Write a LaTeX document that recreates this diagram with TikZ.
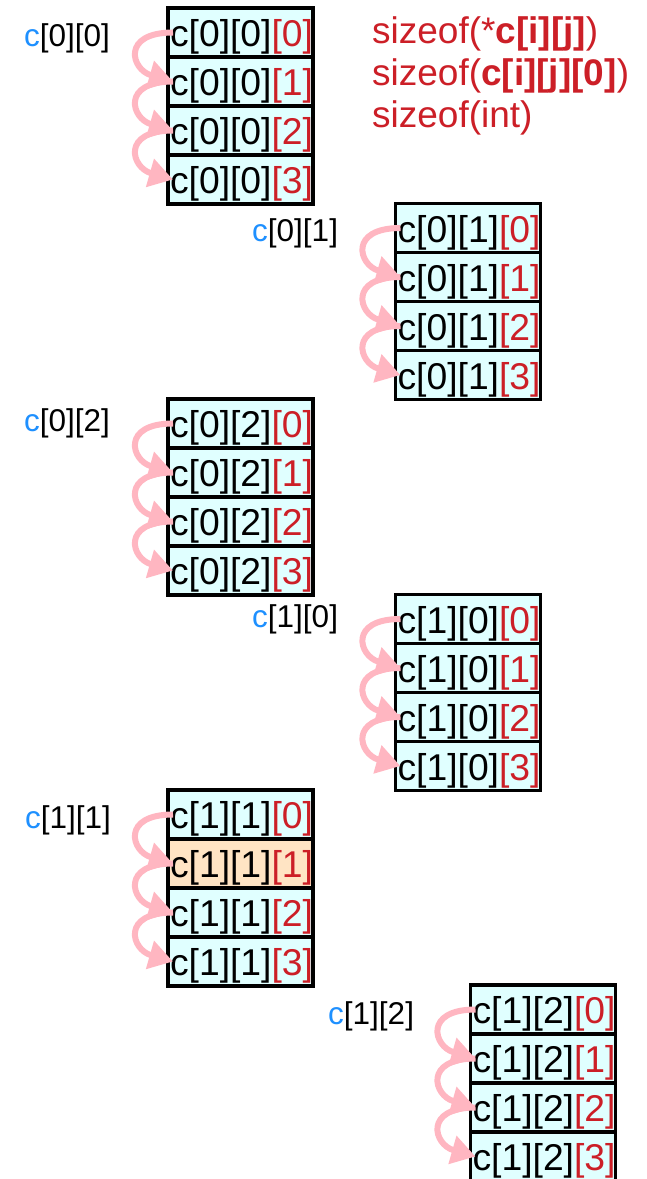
\documentclass[tikz,border=0pt]{standalone}
\usepackage{fontspec}
\setmainfont{Liberation Sans}
\usetikzlibrary{arrows.meta}
\definecolor{cred}{HTML}{CC1F27}
\definecolor{cblue}{HTML}{1E90FF}
\definecolor{cellfill}{HTML}{E0FFFF}
\definecolor{hifill}{HTML}{FFE4C4}
\definecolor{apink}{HTML}{FFB6C1}
\tikzset{
 cell/.style={draw=black, line width=3.5pt, fill=cellfill, minimum width=145pt, minimum height=49pt,
   inner xsep=2pt, inner ysep=0pt, outer sep=0pt, text width=141pt, align=left, text height=28pt, text depth=0pt,
   font=\fontsize{37.3}{44}\selectfont, anchor=north west},
 hicell/.style={fill=hifill},
 lbl/.style={anchor=base west, inner sep=0pt, font=\fontsize{31.5}{38}\selectfont},
 link/.style={apink, line width=6pt, -{Triangle[length=24pt,width=28pt]}},
 note/.style={anchor=base west, inner sep=0pt, text=cred, font=\fontsize{37}{42}\selectfont},
 b5-1/.style={hicell}
}
\newcommand\memblock[5]{%
 \foreach \k in {0,...,3} {
   \node[cell, #1-\k/.try] (#1-\k) at (#2, #3+49*\k) {c[#4][#5]\textcolor{cred}{[\k]}};
 }
 \foreach \k [evaluate=\k as \n using int(\k+1)] in {0,1,2} {
   \draw[link] ([xshift=5pt]#1-\k.west) .. controls +(-52,0) and +(-42,-12) .. ([xshift=5pt]#1-\n.west);
 }
}
\begin{document}
\begin{tikzpicture}[x=1pt,y=-1pt]
\fill[white] (0,0) rectangle (647,1179);
\useasboundingbox (0,0) rectangle (647,1179);
\memblock{b1}{168}{8}{0}{0}
\memblock{b2}{395.5}{203.5}{0}{1}
\memblock{b3}{168}{399}{0}{2}
\memblock{b4}{395.5}{594.5}{1}{0}
\memblock{b5}{168}{790}{1}{1}
\memblock{b6}{470.5}{985}{1}{2}
\node[lbl] (l00) at (24,46) {\textcolor{cblue}{c}[0][0]};
\node[lbl] (l01) at (252,241) {\textcolor{cblue}{c}[0][1]};
\node[lbl] (l02) at (24,431) {\textcolor{cblue}{c}[0][2]};
\node[lbl] (l10) at (252,627) {\textcolor{cblue}{c}[1][0]};
\node[lbl] (l11) at (25,828) {\textcolor{cblue}{c}[1][1]};
\node[lbl] (l12) at (328,1024) {\textcolor{cblue}{c}[1][2]};
\node[note] (n1) at (372,43) {sizeof(*\textbf{c[i][j]})};
\node[note] (n2) at (372,85) {sizeof(\textbf{c[i][j][0]})};
\node[note] (n3) at (372,127) {sizeof(int)};
\end{tikzpicture}
\end{document}
